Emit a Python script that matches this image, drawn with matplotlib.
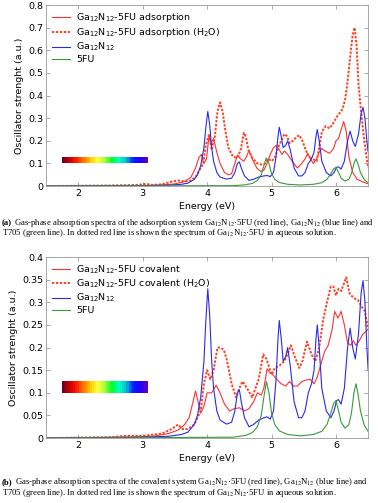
import numpy as np
import matplotlib
matplotlib.use('Agg')
import matplotlib.pyplot as plt
from matplotlib.colors import LinearSegmentedColormap

# ---- data (energy in eV, oscillator strength in a.u.) ----
gan_e = [1.5, 3.0, 3.4, 3.6, 3.7, 3.8, 3.85, 3.9, 3.95, 3.98, 4.01, 4.04, 4.07, 4.1, 4.15, 4.2, 4.3, 4.38,
         4.43, 4.47, 4.5, 4.53, 4.58, 4.65, 4.72, 4.8, 4.88, 4.93, 4.98, 5.03, 5.07, 5.1, 5.12, 5.15, 5.18,
         5.22, 5.25, 5.29, 5.35, 5.42, 5.47, 5.52, 5.57, 5.62, 5.66, 5.69, 5.71, 5.74, 5.78, 5.85, 5.92,
         5.97, 6.01, 6.04, 6.08, 6.13, 6.18, 6.22, 6.26, 6.3, 6.35, 6.39, 6.42, 6.45, 6.48, 6.5]
gan_f = [0.0, 0.002, 0.004, 0.008, 0.013, 0.03, 0.05, 0.09, 0.17, 0.26, 0.33, 0.27, 0.17, 0.11, 0.06, 0.04,
         0.031, 0.035, 0.06, 0.1, 0.107, 0.08, 0.045, 0.025, 0.03, 0.04, 0.045, 0.047, 0.042, 0.06, 0.13,
         0.22, 0.26, 0.22, 0.17, 0.18, 0.2, 0.16, 0.08, 0.045, 0.045, 0.06, 0.1, 0.12, 0.15, 0.22, 0.25,
         0.2, 0.11, 0.06, 0.045, 0.06, 0.083, 0.085, 0.075, 0.11, 0.2, 0.243, 0.2, 0.175, 0.23, 0.32,
         0.348, 0.3, 0.2, 0.15]

fu_e = [1.5, 4.4, 4.6, 4.7, 4.78, 4.84, 4.88, 4.92, 4.96, 5.0, 5.05, 5.12, 5.25, 5.45, 5.65, 5.78, 5.86,
        5.92, 5.96, 6.0, 6.04, 6.08, 6.14, 6.2, 6.24, 6.28, 6.31, 6.34, 6.38, 6.44, 6.5]
fu_f = [0.0, 0.002, 0.006, 0.012, 0.025, 0.05, 0.09, 0.125, 0.1, 0.055, 0.03, 0.016, 0.008, 0.005, 0.008,
        0.015, 0.03, 0.055, 0.075, 0.083, 0.06, 0.035, 0.022, 0.03, 0.055, 0.1, 0.12, 0.1, 0.06, 0.028, 0.015]

ads_e = [1.5, 3.0, 3.3, 3.5, 3.65, 3.75, 3.82, 3.87, 3.91, 3.95, 3.99, 4.03, 4.06, 4.1, 4.15, 4.2, 4.27,
         4.33, 4.38, 4.43, 4.47, 4.52, 4.57, 4.61, 4.65, 4.7, 4.77, 4.83, 4.88, 4.93, 4.98, 5.03, 5.07,
         5.12, 5.16, 5.2, 5.25, 5.32, 5.4, 5.47, 5.52, 5.56, 5.6, 5.65, 5.7, 5.74, 5.78, 5.83, 5.9, 5.96,
         6.0, 6.04, 6.08, 6.12, 6.16, 6.2, 6.26, 6.33, 6.42, 6.5]
ads_f = [0.0, 0.002, 0.005, 0.01, 0.02, 0.04, 0.08, 0.125, 0.14, 0.1, 0.12, 0.225, 0.19, 0.21, 0.15, 0.1,
         0.06, 0.05, 0.055, 0.1, 0.137, 0.12, 0.11, 0.13, 0.158, 0.12, 0.08, 0.065, 0.07, 0.1, 0.14, 0.17,
         0.18, 0.16, 0.14, 0.155, 0.14, 0.11, 0.08, 0.1, 0.12, 0.145, 0.12, 0.1, 0.12, 0.15, 0.166, 0.155,
         0.145, 0.165, 0.2, 0.21, 0.25, 0.285, 0.24, 0.13, 0.06, 0.03, 0.018, 0.01]

adsw_e = [1.5, 2.5, 2.9, 3.05, 3.15, 3.3, 3.45, 3.55, 3.65, 3.75, 3.82, 3.88, 3.94, 3.98, 4.03, 4.07,
          4.12, 4.16, 4.2, 4.24, 4.28, 4.33, 4.4, 4.47, 4.52, 4.57, 4.6, 4.64, 4.7, 4.78, 4.85, 4.9, 4.95,
          5.0, 5.05, 5.1, 5.15, 5.2, 5.24, 5.28, 5.33, 5.38, 5.43, 5.48, 5.53, 5.58, 5.64, 5.7, 5.74, 5.78,
          5.84, 5.9, 5.95, 6.0, 6.05, 6.1, 6.14, 6.18, 6.22, 6.26, 6.29, 6.32, 6.35, 6.39, 6.44, 6.5]
adsw_f = [0.0, 0.003, 0.005, 0.01, 0.005, 0.008, 0.02, 0.025, 0.02, 0.025, 0.04, 0.07, 0.1, 0.18, 0.23,
          0.16, 0.22, 0.33, 0.37, 0.33, 0.25, 0.17, 0.13, 0.125, 0.16, 0.235, 0.22, 0.16, 0.125, 0.1,
          0.095, 0.1, 0.12, 0.11, 0.125, 0.17, 0.2, 0.23, 0.22, 0.19, 0.2, 0.215, 0.225, 0.2, 0.16, 0.13,
          0.12, 0.11, 0.17, 0.24, 0.265, 0.255, 0.275, 0.3, 0.32, 0.34, 0.38, 0.46, 0.57, 0.67, 0.7, 0.62,
          0.45, 0.33, 0.2, 0.08]

cov_e = [1.5, 3.0, 3.2, 3.4, 3.55, 3.65, 3.72, 3.78, 3.82, 3.86, 3.9, 3.95, 4.0, 4.07, 4.14, 4.2, 4.27,
         4.35, 4.42, 4.5, 4.58, 4.65, 4.72, 4.78, 4.84, 4.88, 4.93, 4.97, 5.02, 5.08, 5.15, 5.22, 5.28,
         5.34, 5.4, 5.47, 5.53, 5.6, 5.66, 5.71, 5.76, 5.82, 5.88, 5.94, 5.98, 6.03, 6.08, 6.13, 6.18,
         6.23, 6.27, 6.31, 6.36, 6.42, 6.5]
cov_f = [0.0, 0.003, 0.005, 0.01, 0.018, 0.03, 0.045, 0.08, 0.104, 0.08, 0.055, 0.07, 0.1, 0.1, 0.117,
         0.1, 0.075, 0.06, 0.065, 0.067, 0.06, 0.065, 0.08, 0.1, 0.095, 0.11, 0.153, 0.145, 0.14, 0.13,
         0.12, 0.115, 0.125, 0.115, 0.115, 0.125, 0.128, 0.13, 0.12, 0.135, 0.16, 0.19, 0.205, 0.24, 0.28,
         0.265, 0.28, 0.25, 0.21, 0.205, 0.215, 0.205, 0.215, 0.23, 0.24]

covw_e = [1.5, 2.5, 2.75, 3.0, 3.3, 3.45, 3.55, 3.62, 3.7, 3.8, 3.9, 3.95, 4.0, 4.05, 4.1, 4.16, 4.2,
          4.26, 4.31, 4.38, 4.45, 4.5, 4.55, 4.62, 4.7, 4.8, 4.87, 4.92, 5.0, 5.05, 5.12, 5.2, 5.26, 5.3,
          5.36, 5.43, 5.48, 5.55, 5.62, 5.68, 5.74, 5.8, 5.86, 5.92, 5.96, 6.0, 6.04, 6.08, 6.12, 6.16,
          6.21, 6.27, 6.34, 6.4, 6.45, 6.5]
covw_f = [0.0, 0.002, 0.005, 0.005, 0.01, 0.02, 0.03, 0.02, 0.02, 0.03, 0.06, 0.12, 0.15, 0.13, 0.15,
          0.2, 0.2, 0.195, 0.17, 0.12, 0.09, 0.11, 0.125, 0.11, 0.09, 0.13, 0.185, 0.175, 0.14, 0.155,
          0.16, 0.17, 0.19, 0.205, 0.18, 0.155, 0.17, 0.213, 0.185, 0.17, 0.2, 0.26, 0.3, 0.335, 0.335,
          0.315, 0.33, 0.325, 0.34, 0.355, 0.32, 0.31, 0.305, 0.29, 0.28, 0.24]

# visible spectrum strip drawn inside the plots
strip_colors = ['#6b0020', '#d40000', '#ff2000', '#ff7f00', '#ffd000', '#ffff40', '#a0ff30',
                '#00ff30', '#00ffcc', '#00c8c8', '#0020ff', '#2000ff', '#6000c0']
strip_e = [1.75, 3.08]
strip_f = [0.1, 0.125]

plt.rcParams['font.family'] = 'DejaVu Sans'

fig = plt.figure(figsize=(3.78, 5.03), dpi=100)
ax1 = fig.add_axes([0.122, 0.630, 0.852, 0.360])
ax2 = fig.add_axes([0.122, 0.129, 0.852, 0.360])

red = '#ff3030'
dash = '#ff4020'
blue = '#2a2aee'
green = '#3a9a3a'

rainbow = LinearSegmentedColormap.from_list('spec', strip_colors)
grad = np.linspace(0, 1, 40).reshape(1, -1)


def style(ax, ymax, yticks, ylabels):
    ax.set_xlim(1.5, 6.5)
    ax.set_ylim(0, ymax)
    ax.set_xticks([2, 3, 4, 5, 6])
    ax.set_yticks(yticks)
    ax.set_yticklabels(ylabels)
    ax.tick_params(direction='in', top=True, right=True, length=3, width=0.5,
                   color='#888888', labelsize=6.8, pad=2)
    for s in ax.spines.values():
        s.set_color('#999999')
        s.set_linewidth(0.6)
    ax.set_xlabel('Energy (eV)', fontsize=6.8, labelpad=3)
    ax.set_ylabel('Oscillator strenght (a.u.)', fontsize=6.8, labelpad=3)
    ax.imshow(grad, cmap=rainbow, extent=[strip_e[0], strip_e[1], strip_f[0], strip_f[1]],
              aspect='auto', interpolation='nearest', zorder=1)


ax1.plot(ads_e, ads_f, color=red, lw=0.8, label=r'Ga$_{12}$N$_{12}$-5FU adsorption')
ax1.plot(adsw_e, adsw_f, color=dash, lw=1.4, ls=(0, (1.2, 0.8)), label=r'Ga$_{12}$N$_{12}$-5FU adsorption (H$_2$O)')
ax1.plot(gan_e, gan_f, color=blue, lw=0.8, label=r'Ga$_{12}$N$_{12}$')
ax1.plot(fu_e, fu_f, color=green, lw=0.8, label='5FU')
style(ax1, 0.8, [0, 0.1, 0.2, 0.3, 0.4, 0.5, 0.6, 0.7, 0.8],
      ['0', '0.1', '0.2', '0.3', '0.4', '0.5', '0.6', '0.7', '0.8'])

ax2.plot(cov_e, cov_f, color=red, lw=0.8, label=r'Ga$_{12}$N$_{12}$-5FU covalent')
ax2.plot(covw_e, covw_f, color=dash, lw=1.4, ls=(0, (1.2, 0.8)), label=r'Ga$_{12}$N$_{12}$-5FU covalent (H$_2$O)')
ax2.plot(gan_e, gan_f, color=blue, lw=0.8, label=r'Ga$_{12}$N$_{12}$')
ax2.plot(fu_e, fu_f, color=green, lw=0.8, label='5FU')
style(ax2, 0.4, [0, 0.05, 0.1, 0.15, 0.2, 0.25, 0.3, 0.35, 0.4],
      ['0', '0.05', '0.1', '0.15', '0.2', '0.25', '0.3', '0.35', '0.4'])

for ax in (ax1, ax2):
    ax.legend(loc='upper left', frameon=False, fontsize=6.8, handlelength=1.9,
              labelspacing=0.2, borderaxespad=0.25, handletextpad=0.6)

# captions
cap = dict(family='Liberation Serif', fontsize=6.2, math_fontfamily='stix')
captions = [
    ('(a)', ' Gas-phase absorption spectra of the adsorption system Ga$_{12}$N$_{12}$·5FU (red line), '
            'Ga$_{12}$N$_{12}$ (blue line) and', 0.553),
    ('(b)', ' Gas-phase absorption spectra of the covalent system Ga$_{12}$N$_{12}$·5FU (red line), '
            'Ga$_{12}$N$_{12}$ (blue line) and', 0.037),
]
second = 'T705 (green line). In dotted red line is shown the spectrum of Ga$_{12}$N$_{12}$·5FU in aqueous solution.'
for tag, line1, y in captions:
    t = fig.text(0.005, y, tag, fontweight='bold', va='baseline', **cap)
    fig.canvas.draw()
    fig.text(0.005 + t.get_window_extent().width / fig.bbox.width, y, line1, va='baseline', **cap)
    fig.text(0.005, y - 0.021, second, va='baseline', **cap)

fig.savefig('out.png', dpi=100)
